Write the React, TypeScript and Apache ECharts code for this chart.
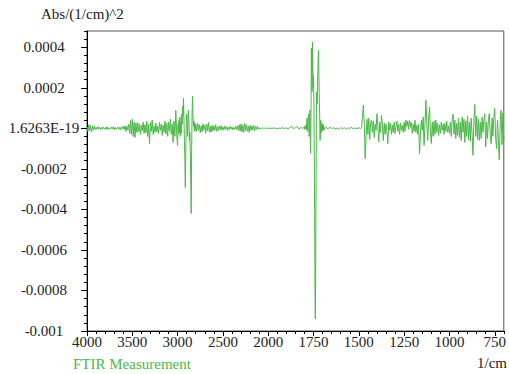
import React, { useEffect, useRef } from "react";
import * as echarts from "echarts";

// Second-derivative FTIR spectrum. Values are in micro-units (x 1e-6 Abs/(1/cm)^2),
// each block is evenly sampled downward from its start wavenumber.
const MICRO = 1e-6;

// 4000 -> 3600 cm-1, step 10
const highStart = 4000;
const highStep = 10;
const highValues = [
  8, -15, 18, -12, 14, -18, 10, -8, 12, -6,
  4, -5, 8, -3, 5, -7, 4, -2, 6, -4,
  3, -5, 7, -6, 4, -2, -5, 6, -3, 8,
  -7, 4, -5, 3, 6, -5, 4, -8, 7, -4,
  10,
];

// 3590 -> 3010 cm-1, step 10 (O-H / N-H region)
const ohStart = 3590;
const ohStep = 10;
const ohValues = [
  -6, 12, -15, 10, -8, 20, -25, 38, -30, 45,
  -40, 30, -45, 25, -20, 28, -18, 22, -30, 15,
  -12, 30, -25, 18, -22, 35, -40, 20, -75, 30,
  -15, 40, -30, 10, -20, 25, -18, 12, -25, 30,
  -10, 20, -35, 15, -20, 35, -28, 25, -40, 30,
  -15, 45, -30, 20, -70, 35, -40, 88, -30,
];

// 3000 -> 2805 cm-1, step 5 (C-H stretching)
const chStart = 3000;
const chStep = 5;
const chValues = [
  -85, 20, -30, 40, -20, 55, -40, 30, -25, 70,
  20, 110, 60, 148, 40, -60, -150, -292, -120, 20,
  70, 30, -40, 50, 90, 40, -60, -20, -110, -250,
  -420, -100, 80, 158, 60, 10, 35, -15, 25, -10,
];

// 2800 -> 2010 cm-1, step 10
const midStart = 2800;
const midStep = 10;
const midValues = [
  20, -15, 25, -10, 18, -22, 12, -18, 22, -8,
  15, -25, 20, -12, 28, -18, 10, -20, 15, -14,
  12, -10, 18, -15, 8, -12, 10, -6, 14, -10,
  6, -8, 12, -5, 8, -12, 5, -6, 10, -4,
  6, -8, 4, -5, 9, -6, 12, -10, 18, -14,
  22, -18, 15, -20, 25, -12, 18, -15, 10, -20,
  14, -10, 12, -8, 15, -12, 8, -6, 10, -5,
  4, -3, 2, -2, 3, -1, 1, -2, 1, 0,
];

// 2000 -> 1800 cm-1, step 10
const flatStart = 2000;
const flatStep = 10;
const flatValues = [
  0, 1, -1, 2, 0, -2, 1, 0, 3, -1,
  2, -3, 4, 10, -2, 3, 9, -4, 5, -2,
  8,
];

// 1798 -> 1690 cm-1, step 2 (carbonyl band)
const carbonylStart = 1798;
const carbonylStep = 2;
const carbonylValues = [
  -5, 10, 4, 15, -8, 30, 50, 20, -15, 40,
  70, 30, -40, 20, 90, -60, -124, 60, 395, 300,
  180, 425, 320, 203, 260, 150, -100, -400, -800, -940,
  -700, -250, 80, 180, 120, 200, 300, 350, 385, 250,
  140, 60, -60, -30, 40, 10, -20, 25, -10, 15,
  -8, 20, -12, 6, -4,
];

// 1680 -> 1490 cm-1, step 10
const amideStart = 1680;
const amideStep = 10;
const amideValues = [
  5, -3, 6, -2, 3, -4, 2, -6, 4, -2,
  3, -5, 2, 0, 4, -3, 2, -2, 3, -1,
];

// 1485 -> 700 cm-1, step 5 (fingerprint region)
const fingerprintStart = 1485;
const fingerprintStep = 5;
const fingerprintValues = [
  2, 60, 114, 20, -150, -40, 45, -30, 50, -55,
  25, 40, -20, 35, -45, 20, -10, 72, 10, -67,
  30, -20, 64, 15, -60, 25, -30, 20, -15, -75,
  30, -10, 25, -30, 15, -20, 30, -25, 10, 35,
  -15, 20, -30, 25, -10, 15, -20, 30, -15, 40,
  10, 35, -5, 38, 5, 30, -25, 20, -15, 40,
  -20, 15, -30, 20, -125, -30, 40, -10, 56, -84,
  20, 138, 30, -60, 40, 105, -20, -75, 30, -40,
  35, -30, 40, -20, 25, -35, 15, -25, 30, -10,
  20, -30, 25, -15, 35, -20, 10, -25, 30, -40,
  45, 70, -30, 40, -50, 25, -35, 50, -45, 30,
  -60, 55, -20, 45, -70, 35, -40, 60, -55, 30,
  -65, 50, -30, -133, 40, 118, -40, 60, -55, 45,
  -60, 30, -50, 55, -20, 40, 72, -92, 30, -50,
  45, 72, -30, -76, 50, -40, 60, 97, -50, -100,
  40, -60, -155, 30, 89, -80, 75, -60,
];

// Axis ends: wavenumber range and absorbance range
const xWavenumberStart = 4000;
const xWavenumberEnd = 700;
const yMinValue = -0.001;
const yMaxValue = 0.00048;
const zeroLabel = "1.6263E-19";

const blocks: [number, number, number[]][] = [
  [highStart, highStep, highValues],
  [ohStart, ohStep, ohValues],
  [chStart, chStep, chValues],
  [midStart, midStep, midValues],
  [flatStart, flatStep, flatValues],
  [carbonylStart, carbonylStep, carbonylValues],
  [amideStart, amideStep, amideValues],
  [fingerprintStart, fingerprintStep, fingerprintValues],
];

// Instrument-style wavenumber axis: below 2000 cm-1 the scale is doubled.
const toAxis = (w: number) => (w >= 2000 ? 4000 - w : 2000 + 2 * (2000 - w));
const fromAxis = (u: number) => (u <= 2000 ? 4000 - u : 2000 - (u - 2000) / 2);

const FONT = "'Liberation Serif', 'Times New Roman', serif";
const GREEN = "#4cb848";

export default function App() {
  const ref = useRef<HTMLDivElement>(null);

  useEffect(() => {
    if (!ref.current) return;
    const chart = echarts.init(ref.current, undefined, { renderer: "svg" });

    const data: [number, number][] = [];
    blocks.forEach(([start, step, values]) => {
      values.forEach((v, i) => data.push([toAxis(start - i * step), v * MICRO]));
    });

    const xMin = toAxis(xWavenumberStart);
    const xMax = toAxis(xWavenumberEnd);

    const labelStyle = { fontFamily: FONT, fontSize: 15, color: "#222" };

    chart.setOption({
      animation: false,
      backgroundColor: "#fff",
      grid: {
        left: 87,
        right: 2,
        top: 31,
        bottom: 43,
        show: true,
        borderColor: "#555",
        borderWidth: 1,
      },
      xAxis: [
        {
          type: "value",
          min: xMin,
          max: xMax,
          interval: 500,
          position: "bottom",
          axisLine: { show: true, onZero: false, lineStyle: { color: "#000", width: 1 } },
          axisTick: { show: true, length: 5, lineStyle: { color: "#000" } },
          axisLabel: {
            ...labelStyle,
            margin: 3,
            showMaxLabel: false,
            formatter: (u: number) => String(Math.round(fromAxis(u))),
          },
          splitLine: { show: false },
        },
        {
          type: "value",
          min: xMin,
          max: xMax,
          interval: 100,
          position: "bottom",
          axisLine: { show: false, onZero: false },
          axisTick: { show: true, length: 3, lineStyle: { color: "#000" } },
          axisLabel: { show: false },
          splitLine: { show: false },
        },
      ],
      yAxis: [
        {
          type: "value",
          min: yMinValue,
          max: yMaxValue,
          interval: 0.0002,
          position: "left",
          axisLine: { show: true, onZero: false, lineStyle: { color: "#000", width: 1 } },
          axisTick: { show: true, length: 6, lineStyle: { color: "#000" } },
          axisLabel: {
            ...labelStyle,
            margin: 43,
            align: "center",
            showMaxLabel: false,
            formatter: (v: number) =>
              Math.abs(v) < 1e-12 ? zeroLabel : String(parseFloat(v.toFixed(6))),
          },
          splitLine: { show: false },
        },
        {
          type: "value",
          min: yMinValue,
          max: yMaxValue,
          interval: 0.00004,
          position: "left",
          axisLine: { show: false, onZero: false },
          axisTick: { show: true, length: 3, lineStyle: { color: "#000" } },
          axisLabel: { show: false },
          splitLine: { show: false },
        },
      ],
      graphic: [
        {
          type: "text",
          left: 41,
          top: 6,
          style: { text: "Abs/(1/cm)^2", fontFamily: FONT, fontSize: 15, fill: "#222" },
        },
        {
          type: "text",
          left: 73,
          top: 356,
          style: { text: "FTIR Measurement", fontFamily: FONT, fontSize: 15, fill: GREEN },
        },
        {
          type: "text",
          right: 2,
          top: 355,
          style: { text: "1/cm", fontFamily: FONT, fontSize: 15, fill: "#222" },
        },
      ],
      series: [
        {
          type: "line",
          xAxisIndex: 0,
          yAxisIndex: 0,
          data,
          showSymbol: false,
          symbol: "none",
          lineStyle: { color: GREEN, width: 1 },
          itemStyle: { color: GREEN },
        },
      ],
    });

    return () => chart.dispose();
  }, []);

  return (
    <div
      ref={ref}
      style={{ position: "fixed", left: 0, top: 0, width: 509, height: 374, background: "#fff" }}
    />
  );
}
